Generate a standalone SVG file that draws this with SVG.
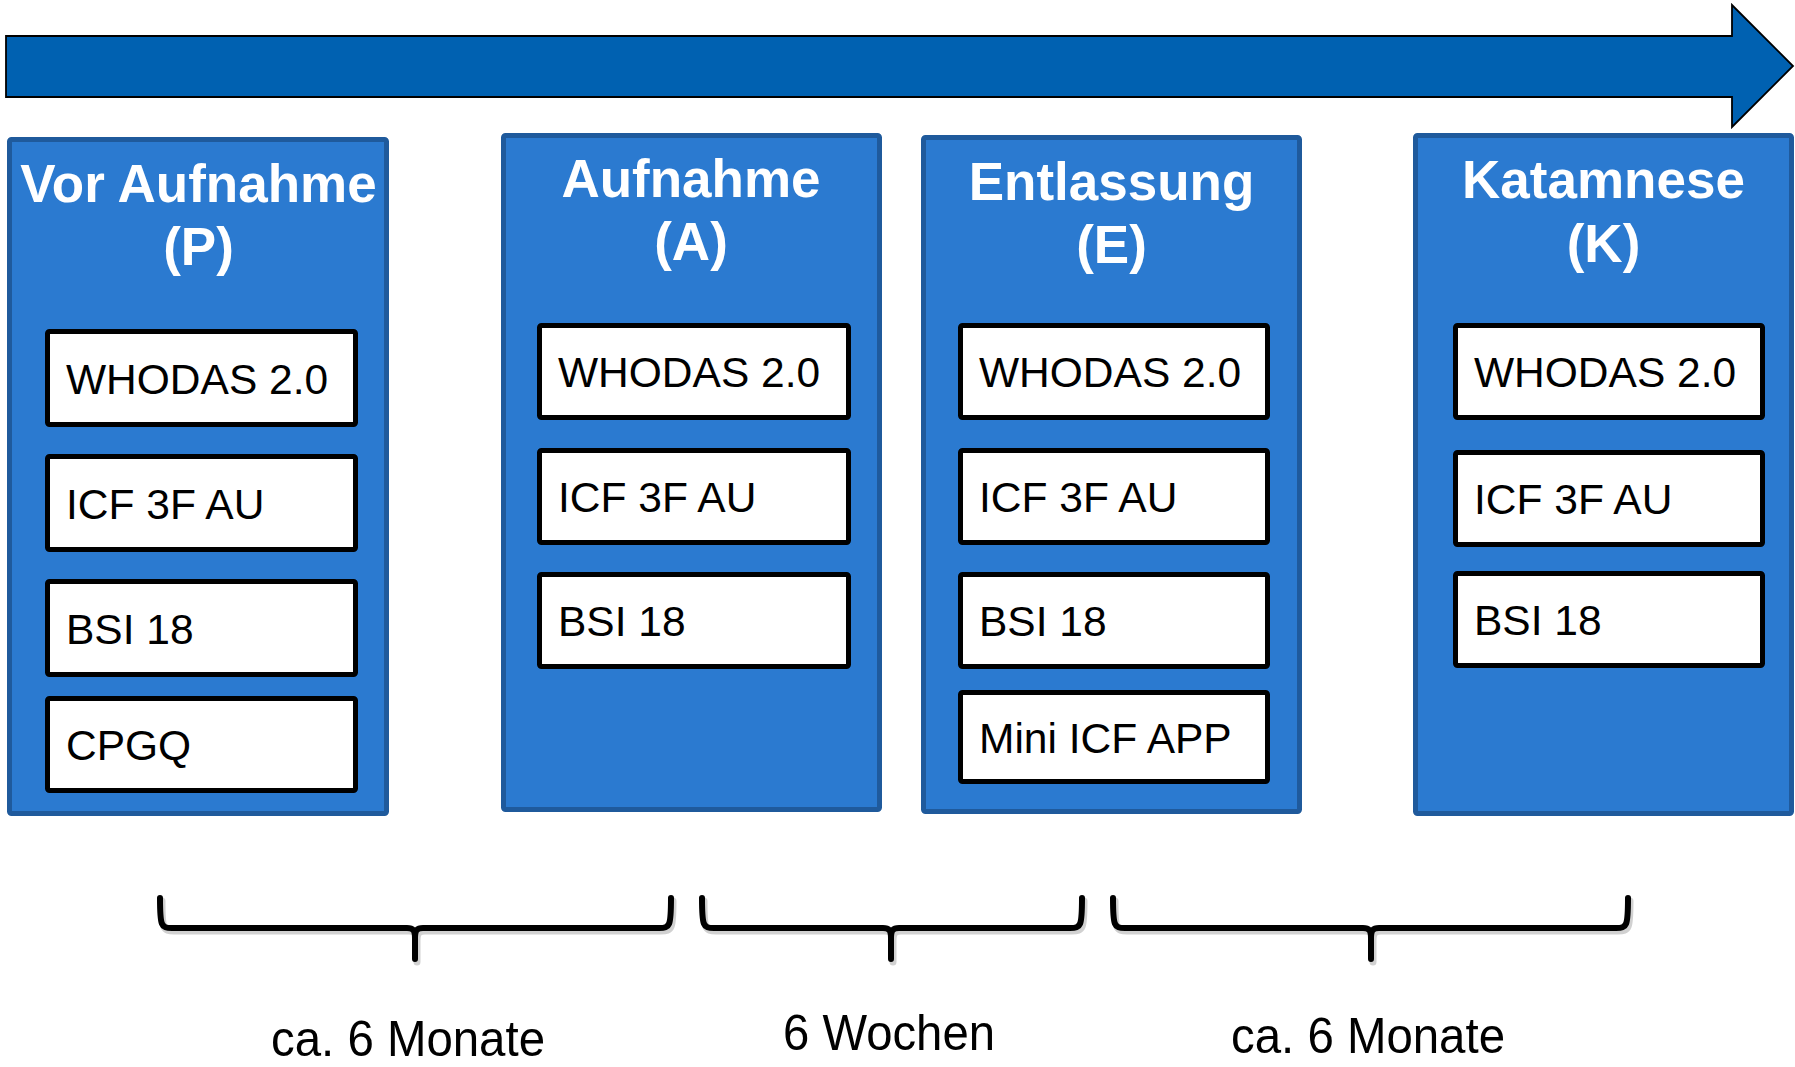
<svg xmlns="http://www.w3.org/2000/svg" width="1795" height="1067" viewBox="0 0 1795 1067">
<style>
.col{fill:#2B7AD0;stroke:#1F5A9C;stroke-width:5}
.item{fill:#fff;stroke:#000;stroke-width:5}
.title{font-family:"Liberation Sans",Arial,sans-serif;font-weight:bold;font-size:53px;fill:#fff;text-anchor:middle}
.it{font-family:"Liberation Sans",Arial,sans-serif;font-size:42.5px;fill:#000}
.lbl{font-family:"Liberation Sans",Arial,sans-serif;font-size:50px;fill:#000;text-anchor:middle}
.brace{fill:none;stroke:#000;stroke-width:6;stroke-linecap:round;stroke-linejoin:round}
.bshadow{fill:none;stroke:#000;stroke-opacity:0.18;stroke-width:7;stroke-linecap:round;stroke-linejoin:round}
</style>
<rect width="1795" height="1067" fill="#fff"/>
<g id="timeline">
<polygon points="6,36 1732,36 1732,5 1793,66 1732,127 1732,97 6,97" fill="#0061B1" stroke="#000" stroke-width="1.8"/>
</g>
<g id="col-P">
<rect class="col" x="9.5" y="139.5" width="377" height="674" rx="2"/>
<text class="title" x="198.5" y="202">Vor Aufnahme</text>
<text class="title" x="198.5" y="265">(P)</text>
<rect class="item" x="47.5" y="331.5" width="308" height="93" rx="2"/>
<text class="it" x="66" y="394">WHODAS 2.0</text>
<rect class="item" x="47.5" y="456.5" width="308" height="93" rx="2"/>
<text class="it" x="66" y="519">ICF 3F AU</text>
<rect class="item" x="47.5" y="581.5" width="308" height="93" rx="2"/>
<text class="it" x="66" y="644">BSI 18</text>
<rect class="item" x="47.5" y="698.5" width="308" height="92" rx="2"/>
<text class="it" x="66" y="760">CPGQ</text>
</g>
<g id="col-A">
<rect class="col" x="503.5" y="135.5" width="376" height="674" rx="2"/>
<text class="title" x="691" y="197">Aufnahme</text>
<text class="title" x="691" y="260">(A)</text>
<rect class="item" x="539.5" y="325.5" width="309" height="92" rx="2"/>
<text class="it" x="558" y="387">WHODAS 2.0</text>
<rect class="item" x="539.5" y="450.5" width="309" height="92" rx="2"/>
<text class="it" x="558" y="512">ICF 3F AU</text>
<rect class="item" x="539.5" y="574.5" width="309" height="92" rx="2"/>
<text class="it" x="558" y="636">BSI 18</text>
</g>
<g id="col-E">
<rect class="col" x="923.5" y="137.5" width="376" height="674" rx="2"/>
<text class="title" x="1111.5" y="200">Entlassung</text>
<text class="title" x="1111.5" y="263">(E)</text>
<rect class="item" x="960.5" y="325.5" width="307" height="92" rx="2"/>
<text class="it" x="979" y="387">WHODAS 2.0</text>
<rect class="item" x="960.5" y="450.5" width="307" height="92" rx="2"/>
<text class="it" x="979" y="512">ICF 3F AU</text>
<rect class="item" x="960.5" y="574.5" width="307" height="92" rx="2"/>
<text class="it" x="979" y="636">BSI 18</text>
<rect class="item" x="960.5" y="692.5" width="307" height="89" rx="2"/>
<text class="it" x="979" y="753">Mini ICF APP</text>
</g>
<g id="col-K">
<rect class="col" x="1415.5" y="135.5" width="376" height="678" rx="2"/>
<text class="title" x="1603.5" y="198">Katamnese</text>
<text class="title" x="1603.5" y="262">(K)</text>
<rect class="item" x="1455.5" y="325.5" width="307" height="92" rx="2"/>
<text class="it" x="1474" y="387">WHODAS 2.0</text>
<rect class="item" x="1455.5" y="452.5" width="307" height="92" rx="2"/>
<text class="it" x="1474" y="514">ICF 3F AU</text>
<rect class="item" x="1455.5" y="573.5" width="307" height="92" rx="2"/>
<text class="it" x="1474" y="635">BSI 18</text>
</g>
<g id="connectors">
<path class="bshadow" transform="translate(2,3)" d="M160 898 C160 926 161 928 172 928 L407 928 C413 928 415 930 415 938 L415 959 M415 938 C415 930 417 928 423 928 L659 928 C670 928 671 926 671 898"/>
<path class="brace" d="M160 898 C160 926 161 928 172 928 L407 928 C413 928 415 930 415 938 L415 959 M415 938 C415 930 417 928 423 928 L659 928 C670 928 671 926 671 898"/>
<path class="bshadow" transform="translate(2,3)" d="M702 898 C702 926 703 928 714 928 L883 928 C889 928 891 930 891 938 L891 959 M891 938 C891 930 893 928 899 928 L1070 928 C1081 928 1082 926 1082 898"/>
<path class="brace" d="M702 898 C702 926 703 928 714 928 L883 928 C889 928 891 930 891 938 L891 959 M891 938 C891 930 893 928 899 928 L1070 928 C1081 928 1082 926 1082 898"/>
<path class="bshadow" transform="translate(2,3)" d="M1113 898 C1113 926 1114 928 1125 928 L1363 928 C1369 928 1371 930 1371 938 L1371 959 M1371 938 C1371 930 1373 928 1379 928 L1616 928 C1627 928 1628 926 1628 898"/>
<path class="brace" d="M1113 898 C1113 926 1114 928 1125 928 L1363 928 C1369 928 1371 930 1371 938 L1371 959 M1371 938 C1371 930 1373 928 1379 928 L1616 928 C1627 928 1628 926 1628 898"/>
</g>
<g id="labels">
<text class="lbl" x="408" y="1056" textLength="274" lengthAdjust="spacingAndGlyphs">ca. 6 Monate</text>
<text class="lbl" x="889" y="1050" textLength="212" lengthAdjust="spacingAndGlyphs">6 Wochen</text>
<text class="lbl" x="1368" y="1053" textLength="274" lengthAdjust="spacingAndGlyphs">ca. 6 Monate</text>
</g>
</svg>
